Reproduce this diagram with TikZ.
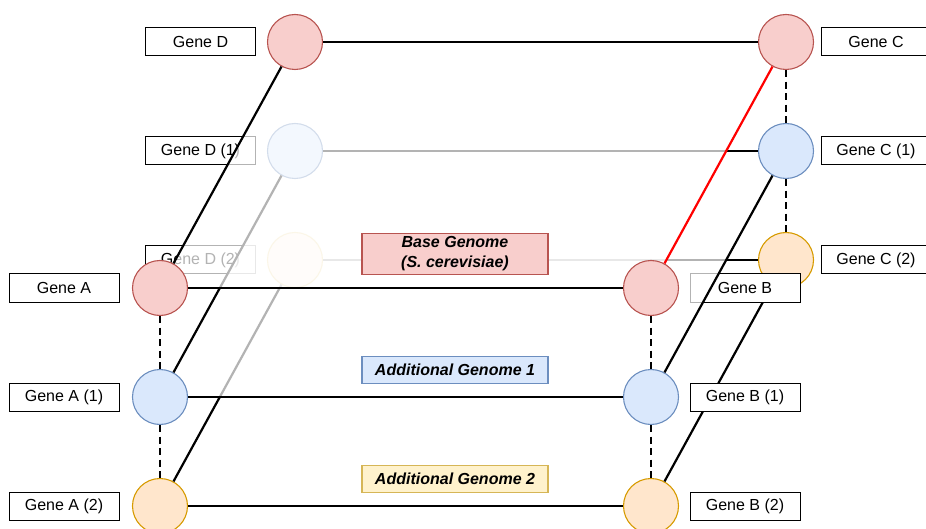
\documentclass[tikz,border=0pt]{standalone}
\usepackage{fontspec}
\setmainfont{Liberation Sans}
\definecolor{redfill}{HTML}{F8CECC}
\definecolor{redline}{HTML}{B85450}
\definecolor{bluefill}{HTML}{DAE8FC}
\definecolor{blueline}{HTML}{6C8EBF}
\definecolor{orfill}{HTML}{FFE6CC}
\definecolor{orline}{HTML}{D79B00}
\definecolor{yelfill}{HTML}{FFF2CC}
\definecolor{yelline}{HTML}{D6B656}
\definecolor{edgered}{HTML}{FF0000}
\begin{document}
\begin{tikzpicture}[x=1pt,y=-1pt,
  circ/.style={circle,minimum size=55pt,inner sep=0pt,line width=1.1pt},
  rc/.style={circ,fill=redfill,draw=redline},
  bc/.style={circ,fill=bluefill,draw=blueline},
  oc/.style={circ,fill=orfill,draw=orline},
  gene/.style={draw=black,fill=white,line width=1pt,minimum width=110pt,minimum height=28pt,inner sep=0pt,font=\fontsize{16}{19}\selectfont},
  conn/.style={line width=2.2pt,black},
  dashconn/.style={conn,dash pattern=on 7pt off 4.5pt},
  glabel/.style={line width=1.1pt,minimum width=186pt,inner sep=0pt,align=center,font=\fontsize{16}{20}\selectfont\bfseries\itshape},
  veil/.style={fill=white,opacity=0.7}
]
\useasboundingbox (0,0) rectangle (926,529);
\fill[white] (0,0) rectangle (926,529);
% positions
\coordinate (pA) at (160,288);
\coordinate (pB) at (651,288);
\coordinate (pC) at (786,42);
\coordinate (pD) at (295,42);
\coordinate (pA1) at (160,397);
\coordinate (pB1) at (651,397);
\coordinate (pC1) at (786,151);
\coordinate (pD1) at (295,151);
% ---------- genome 2 ----------
\node[oc] (D2) at (295,260) {};
\node[oc] (C2) at (786,260) {};
\node[oc] (A2) at (160,506) {};
\node[oc] (B2) at (651,506) {};
\draw[conn] (D2) -- (C2);
\draw[conn] (D2) -- (A2);
\draw[conn] (A2) -- (B2);
\draw[conn] (B2) -- (C2);
\node[gene] (gD2) at (200.5,260) {Gene D (2)};
\node[gene] (gC2) at (876,260) {Gene C (2)};
\node[gene] (gA2) at (64,506) {Gene A (2)};
\node[gene] (gB2) at (745,506) {Gene B (2)};
\node[gene] (gB) at (745,288) {Gene B};
\fill[veil] (pA1) -- (pB1) -- (pC1) -- (pD1) -- cycle;
% ---------- genome 1 ----------
\node[bc] (D1) at (pD1) {};
\node[bc] (C1) at (pC1) {};
\node[bc] (A1) at (pA1) {};
\node[bc] (B1) at (pB1) {};
\draw[conn] (D1) -- (C1);
\draw[conn] (D1) -- (A1);
\draw[conn] (A1) -- (B1);
\draw[conn] (B1) -- (C1);
\node[gene] (gD1) at (200.5,151) {Gene D (1)};
\node[gene] (gC1) at (876,151) {Gene C (1)};
\node[gene] (gA1) at (64,397) {Gene A (1)};
\node[gene] (gB1) at (745,397) {Gene B (1)};
\fill[veil] (pA) -- (pB) -- (pC) -- (pD) -- cycle;
% ---------- base genome ----------
\node[rc] (D) at (pD) {};
\node[rc] (C) at (pC) {};
\node[rc] (A) at (pA) {};
\node[rc] (B) at (pB) {};
\draw[conn] (D) -- (C);
\draw[conn] (D) -- (A);
\draw[conn] (A) -- (B);
\draw[line width=2.2pt,edgered] (B) -- (C);
\node[gene] (gD) at (200.5,42) {Gene D};
\node[gene] (gC) at (876,42) {Gene C};
\node[gene] (gA) at (64,288) {Gene A};
% vertical dashed links
\draw[dashconn] (A) -- (A1);
\draw[dashconn] (A1) -- (A2);
\draw[dashconn] (B) -- (B1);
\draw[dashconn] (B1) -- (B2);
\draw[dashconn] (C) -- (C1);
\draw[dashconn] (C1) -- (C2);
% genome labels
\node[glabel,fill=redfill,draw=redline,minimum height=41pt] (lbase) at (455,254) {Base Genome\\(S. cerevisiae)};
\node[glabel,fill=bluefill,draw=blueline,minimum height=27pt] (lg1) at (455,370) {Additional Genome 1};
\node[glabel,fill=yelfill,draw=yelline,minimum height=27pt] (lg2) at (455,479) {Additional Genome 2};
\end{tikzpicture}
\end{document}
